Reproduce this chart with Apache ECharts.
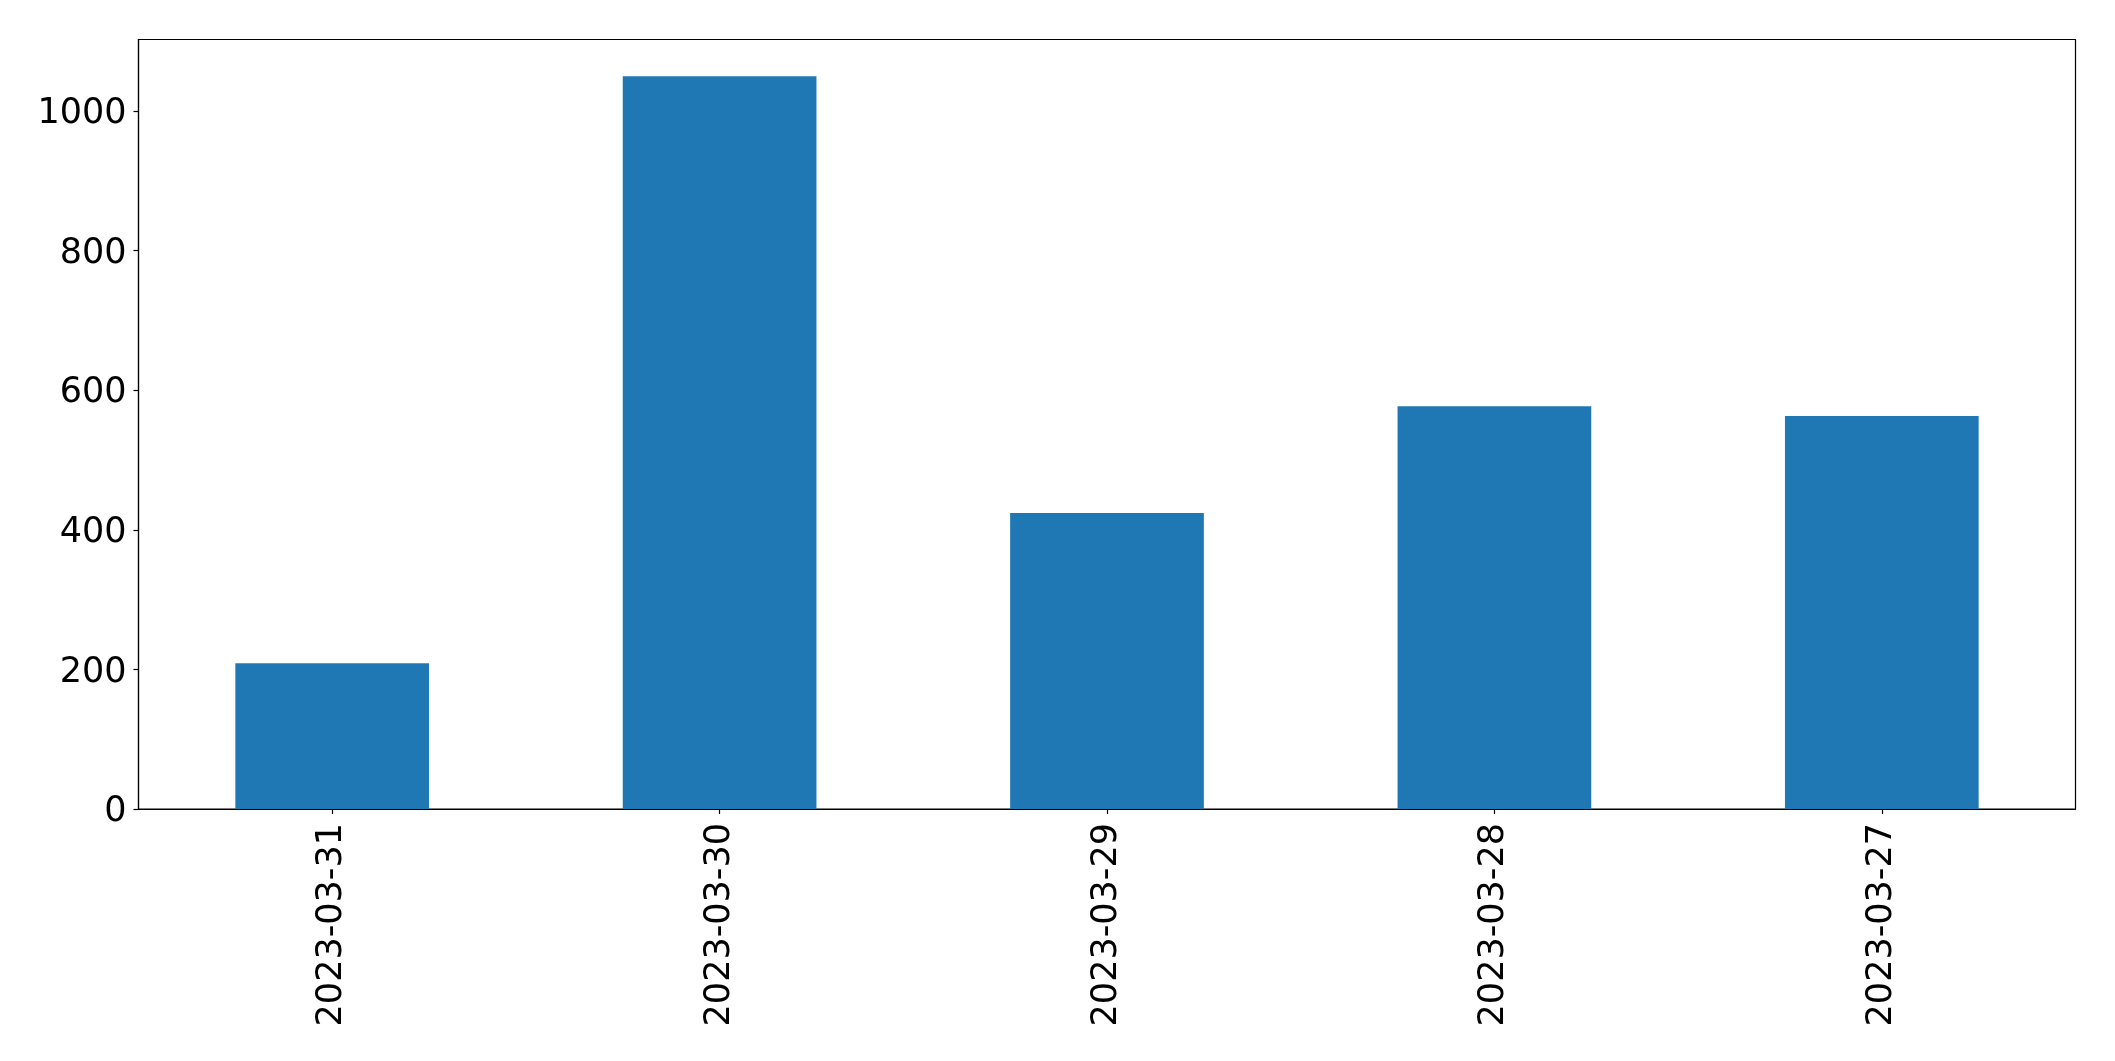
<!DOCTYPE html>
<html>
<head>
<meta charset="utf-8">
<script src="https://cdn.jsdelivr.net/npm/echarts@6/dist/echarts.min.js"></script>
<style>
html,body{margin:0;padding:0;background:#fff;}
#chart{width:2115px;height:1061px;}
</style>
</head>
<body>
<div id="chart"></div>
<script>
const categories = ['2023-03-31', '2023-03-30', '2023-03-29', '2023-03-28', '2023-03-27'];
const values = [209, 1050, 424, 577, 563];
const yTicks = [0, 200, 400, 600, 800, 1000];

const chart = echarts.init(document.getElementById('chart'), null, {renderer: 'canvas'});
const font = 'DejaVu Sans';
chart.setOption({
  animation: false,
  backgroundColor: '#fff',
  grid: {
    left: 138.5, right: 39.5, top: 39.5, bottom: 252,
    show: true, borderColor: '#000', borderWidth: 1.2, backgroundColor: 'transparent'
  },
  xAxis: {
    type: 'category',
    data: categories,
    axisLine: {show: true, lineStyle: {color: '#000', width: 1.2}},
    axisTick: {show: true, alignWithLabel: true, length: 5, lineStyle: {color: '#000', width: 1.2}},
    axisLabel: {rotate: 90, margin: 14, color: '#000', fontSize: 35, fontFamily: font},
    splitLine: {show: false}
  },
  yAxis: {
    type: 'value',
    min: 0,
    max: 1102.5,
    interval: 200,
    axisLine: {show: true, lineStyle: {color: '#000', width: 1.2}},
    axisTick: {show: true, length: 5, lineStyle: {color: '#000', width: 1.2}},
    axisLabel: {
      margin: 12, color: '#000', fontSize: 35, fontFamily: font,
      showMaxLabel: false,
      formatter: function (v) { return yTicks.indexOf(v) >= 0 ? '{a|' + v + '}' : ''; },
      rich: {a: {fontSize: 35, fontFamily: font, color: '#000', padding: [6, 0, 0, 0]}}
    },
    splitLine: {show: false}
  },
  series: [{
    type: 'bar',
    data: values,
    barWidth: '50%',
    itemStyle: {color: '#1f77b4'}
  }]
});
</script>
</body>
</html>
